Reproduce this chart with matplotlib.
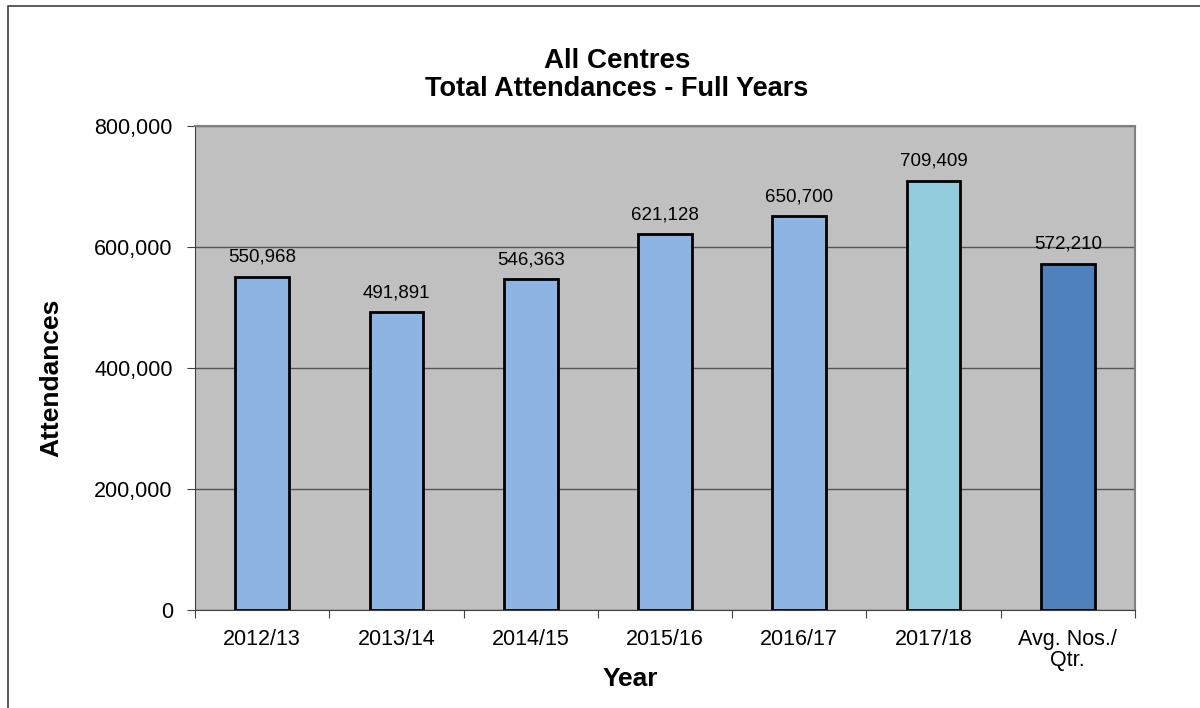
import matplotlib.pyplot as plt
from matplotlib.patches import Rectangle
from matplotlib.ticker import FuncFormatter

# data
years = ['2012/13', '2013/14', '2014/15', '2015/16', '2016/17', '2017/18', 'Avg. Nos./\nQtr.']
attendances = [550968, 491891, 546363, 621128, 650700, 709409, 572210]
bar_colors = ['#8EB4E3'] * 5 + ['#93CDDD', '#4F81BD']

plt.rcParams['font.family'] = ['Liberation Sans', 'DejaVu Sans']

fig = plt.figure(figsize=(12, 7.08), dpi=100)
ax = fig.add_axes([0.1625, 0.1384, 0.7833, 0.6836])

# outer chart border (runs off the right and bottom edges)
fig.patches.append(Rectangle((8 / 1200, -0.05), 1.2, 1.05 - 6 / 708,
                             transform=fig.transFigure, fill=False,
                             edgecolor='#404040', linewidth=1.2))

x = range(len(years))
ax.set_facecolor('#C0C0C0')
ax.bar(x, attendances, width=0.4, color=bar_colors, edgecolor='black', linewidth=2, zorder=3)
for i, v in enumerate(attendances):
    ax.text(i, v + 18000, f'{v:,}', ha='center', va='bottom', fontsize=13.5)

ax.set_xlim(-0.5, len(years) - 0.5)
ax.set_ylim(0, 800000)
ax.set_yticks(range(0, 800001, 200000))
ax.yaxis.set_major_formatter(FuncFormatter(lambda v, p: f'{int(v):,}'))
ax.grid(axis='y', color='#555555', linewidth=1, zorder=1)

# ticks on the category boundaries, labels in the middle
ax.set_xticks([i - 0.5 for i in range(len(years) + 1)])
ax.set_xticklabels([])
ax.set_xticks(list(x), minor=True)
ax.set_xticklabels(years, minor=True, fontsize=15.5, linespacing=1.0, va='top')
ax.tick_params(axis='x', which='minor', length=0, pad=14)
ax.tick_params(axis='x', which='major', length=6, direction='out', color='#404040')
ax.tick_params(axis='y', length=6, direction='out', labelsize=15.5, color='#404040', pad=10)

for s in ['left', 'bottom']:
    ax.spines[s].set_color('#404040')
for s in ['right', 'top']:
    ax.spines[s].set_color('#808080')
    ax.spines[s].set_linewidth(1.5)

fig.text(630 / 1200, 1 - 679 / 708, 'Year', ha='center', va='center',
         fontsize=19, fontweight='bold')
fig.text(51 / 1200, 1 - 378 / 708, 'Attendances', ha='center', va='center',
         rotation=90, fontsize=19, fontweight='bold')

fig.text(617 / 1200, 1 - 61 / 708, 'All Centres', ha='center', va='center',
         fontsize=20, fontweight='bold')
fig.text(617 / 1200, 1 - 89 / 708, 'Total Attendances - Full Years', ha='center', va='center',
         fontsize=19.5, fontweight='bold')

plt.savefig('out.png', dpi=100)
